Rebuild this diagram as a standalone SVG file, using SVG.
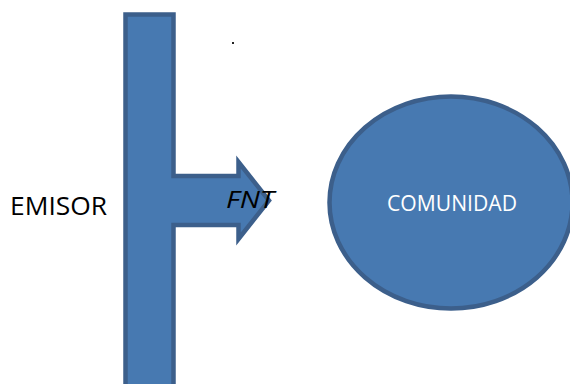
<svg xmlns="http://www.w3.org/2000/svg" width="570" height="384" viewBox="0 0 570 384">
<style>
.shape{fill:#4779b1;stroke:#3c5f8b;stroke-width:4.5;stroke-linejoin:miter}
.lbl{font-family:"Open Sans","Liberation Sans",sans-serif}
</style>
<rect width="570" height="384" fill="#ffffff"/>
<g id="emisor">
<path class="shape" d="M125.5,14.5 H173.5 V176 H238.5 V162 L269,200.5 L238.5,239 V225 H173.5 V392 H125.5 Z"/>
<text class="lbl" x="10" y="215" font-size="26" fill="#000000" textLength="97" lengthAdjust="spacingAndGlyphs">EMISOR</text>
</g>
<g id="connectors">
<text class="lbl" x="226" y="207.5" font-size="23" font-style="italic" fill="#000000" textLength="48" lengthAdjust="spacingAndGlyphs">FNT</text>
</g>
<g id="comunidad">
<ellipse class="shape" cx="451" cy="202.5" rx="121.5" ry="106" stroke-width="3.5"/>
<text class="lbl" x="387" y="211" font-size="21.5" fill="#ffffff" textLength="130" lengthAdjust="spacingAndGlyphs">COMUNIDAD</text>
</g>
<rect x="232" y="42" width="2" height="2" fill="#222222"/>
</svg>
